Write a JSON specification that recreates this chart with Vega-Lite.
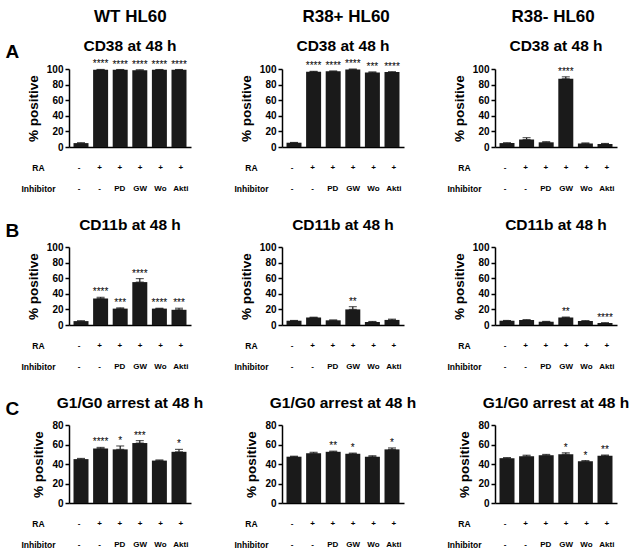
{
"$schema":"https://vega.github.io/schema/vega-lite/v6.json",
"padding":{"left":5,"top":7,"right":2,"bottom":2},
"config":{"view":{"stroke":null},"font":"Liberation Sans",
 "title":{"fontSize":15.5,"fontWeight":"bold","color":"#000","offset":9},
 "text":{"color":"#000"},
 "axisX":{"domainColor":"#000","domainWidth":1.5},
 "axisY":{"grid":false,"domainColor":"#000","domainWidth":1.5,"tickColor":"#000","tickWidth":1.5,"tickSize":4,"labelFontSize":10,"labelFontWeight":"bold","labelColor":"#000","labelPadding":2,"labelOverlap":false,"titleFontSize":13.5,"titleFontWeight":"bold","titleColor":"#000","titlePadding":6}},
"datasets":{
"bars":[
{"cell":"WT","marker":"CD38","cond":"ctrl","mean":5,"upper":5.3,"sig":""},
{"cell":"WT","marker":"CD38","cond":"RA","mean":99,"upper":99.4,"sig":"****"},
{"cell":"WT","marker":"CD38","cond":"PD","mean":99,"upper":99.3,"sig":"****"},
{"cell":"WT","marker":"CD38","cond":"GW","mean":98.5,"upper":98.9,"sig":"****"},
{"cell":"WT","marker":"CD38","cond":"Wo","mean":99,"upper":99.3,"sig":"****"},
{"cell":"WT","marker":"CD38","cond":"Akti","mean":99,"upper":99.3,"sig":"****"},
{"cell":"R38+","marker":"CD38","cond":"ctrl","mean":5.5,"upper":5.8,"sig":""},
{"cell":"R38+","marker":"CD38","cond":"RA","mean":96.5,"upper":97,"sig":"****"},
{"cell":"R38+","marker":"CD38","cond":"PD","mean":97,"upper":97.4,"sig":"****"},
{"cell":"R38+","marker":"CD38","cond":"GW","mean":99.5,"upper":99.8,"sig":"****"},
{"cell":"R38+","marker":"CD38","cond":"Wo","mean":95.5,"upper":96.3,"sig":"***"},
{"cell":"R38+","marker":"CD38","cond":"Akti","mean":96,"upper":96.4,"sig":"****"},
{"cell":"R38-","marker":"CD38","cond":"ctrl","mean":5,"upper":5.3,"sig":""},
{"cell":"R38-","marker":"CD38","cond":"RA","mean":9.5,"upper":12,"sig":""},
{"cell":"R38-","marker":"CD38","cond":"PD","mean":6,"upper":6.8,"sig":""},
{"cell":"R38-","marker":"CD38","cond":"GW","mean":87.5,"upper":90,"sig":"****"},
{"cell":"R38-","marker":"CD38","cond":"Wo","mean":4.5,"upper":5.2,"sig":""},
{"cell":"R38-","marker":"CD38","cond":"Akti","mean":4,"upper":4.5,"sig":""},
{"cell":"WT","marker":"CD11b","cond":"ctrl","mean":5,"upper":5.3,"sig":""},
{"cell":"WT","marker":"CD11b","cond":"RA","mean":34,"upper":35.5,"sig":"****"},
{"cell":"WT","marker":"CD11b","cond":"PD","mean":21,"upper":22,"sig":"***"},
{"cell":"WT","marker":"CD11b","cond":"GW","mean":55,"upper":59.5,"sig":"****"},
{"cell":"WT","marker":"CD11b","cond":"Wo","mean":21,"upper":21.5,"sig":"****"},
{"cell":"WT","marker":"CD11b","cond":"Akti","mean":19.5,"upper":21.5,"sig":"***"},
{"cell":"R38+","marker":"CD11b","cond":"ctrl","mean":5.5,"upper":5.8,"sig":""},
{"cell":"R38+","marker":"CD11b","cond":"RA","mean":9.5,"upper":10,"sig":""},
{"cell":"R38+","marker":"CD11b","cond":"PD","mean":6,"upper":6.4,"sig":""},
{"cell":"R38+","marker":"CD11b","cond":"GW","mean":20,"upper":23.5,"sig":"**"},
{"cell":"R38+","marker":"CD11b","cond":"Wo","mean":4,"upper":4.5,"sig":""},
{"cell":"R38+","marker":"CD11b","cond":"Akti","mean":6.5,"upper":7.5,"sig":""},
{"cell":"R38-","marker":"CD11b","cond":"ctrl","mean":5.5,"upper":5.8,"sig":""},
{"cell":"R38-","marker":"CD11b","cond":"RA","mean":6.3,"upper":6.8,"sig":""},
{"cell":"R38-","marker":"CD11b","cond":"PD","mean":4.2,"upper":4.6,"sig":""},
{"cell":"R38-","marker":"CD11b","cond":"GW","mean":9.5,"upper":10.2,"sig":"**"},
{"cell":"R38-","marker":"CD11b","cond":"Wo","mean":5,"upper":5.6,"sig":""},
{"cell":"R38-","marker":"CD11b","cond":"Akti","mean":2.5,"upper":2.8,"sig":"****"},
{"cell":"WT","marker":"G1","cond":"ctrl","mean":45,"upper":45.7,"sig":""},
{"cell":"WT","marker":"G1","cond":"RA","mean":56,"upper":57,"sig":"****"},
{"cell":"WT","marker":"G1","cond":"PD","mean":55,"upper":58.5,"sig":"*"},
{"cell":"WT","marker":"G1","cond":"GW","mean":61.5,"upper":64,"sig":"***"},
{"cell":"WT","marker":"G1","cond":"Wo","mean":43.5,"upper":44.2,"sig":""},
{"cell":"WT","marker":"G1","cond":"Akti","mean":52.5,"upper":55,"sig":"*"},
{"cell":"R38+","marker":"G1","cond":"ctrl","mean":47.5,"upper":48,"sig":""},
{"cell":"R38+","marker":"G1","cond":"RA","mean":51,"upper":52,"sig":""},
{"cell":"R38+","marker":"G1","cond":"PD","mean":52.5,"upper":53.2,"sig":"**"},
{"cell":"R38+","marker":"G1","cond":"GW","mean":50.5,"upper":51.2,"sig":"*"},
{"cell":"R38+","marker":"G1","cond":"Wo","mean":47.5,"upper":48.5,"sig":""},
{"cell":"R38+","marker":"G1","cond":"Akti","mean":55,"upper":56.5,"sig":"*"},
{"cell":"R38-","marker":"G1","cond":"ctrl","mean":46,"upper":46.5,"sig":""},
{"cell":"R38-","marker":"G1","cond":"RA","mean":48,"upper":49,"sig":""},
{"cell":"R38-","marker":"G1","cond":"PD","mean":49,"upper":49.8,"sig":""},
{"cell":"R38-","marker":"G1","cond":"GW","mean":50,"upper":51.5,"sig":"*"},
{"cell":"R38-","marker":"G1","cond":"Wo","mean":42.7,"upper":43.5,"sig":"*"},
{"cell":"R38-","marker":"G1","cond":"Akti","mean":48.5,"upper":49.2,"sig":"**"}
],
"table":[
{"cond":"ctrl","row":"RA","label":"-"},{"cond":"ctrl","row":"Inhibitor","label":"-"},
{"cond":"RA","row":"RA","label":"+"},{"cond":"RA","row":"Inhibitor","label":"-"},
{"cond":"PD","row":"RA","label":"+"},{"cond":"PD","row":"Inhibitor","label":"PD"},
{"cond":"GW","row":"RA","label":"+"},{"cond":"GW","row":"Inhibitor","label":"GW"},
{"cond":"Wo","row":"RA","label":"+"},{"cond":"Wo","row":"Inhibitor","label":"Wo"},
{"cond":"Akti","row":"RA","label":"+"},{"cond":"Akti","row":"Inhibitor","label":"Akti"}
]
},
"spacing":30,
"hconcat":[
{"title":{"text":"WT HL60","fontSize":17,"offset":13,"anchor":"middle","dx":26},"spacing":18,"vconcat":[
 {"title":{"text":"A","orient":"left","angle":0,"anchor":"end","baseline":"top","fontSize":19,"offset":-12,"dy":4},"spacing":5,"vconcat":[
  {"title":{"text":"CD38 at 48 h","offset":5},"width":122,"height":78,"data":{"name":"bars"},"transform":[{"filter":"datum.cell==='WT' && datum.marker==='CD38'"}],
   "encoding":{"x":{"field":"cond","type":"nominal","sort":["ctrl","RA","PD","GW","Wo","Akti"],"scale":{"paddingInner":0.235,"paddingOuter":0.23},"axis":{"title":null,"labels":false,"ticks":false}}},
   "layer":[
    {"mark":{"type":"bar","color":"#1a1a1a"},"encoding":{"y":{"field":"mean","type":"quantitative","scale":{"domain":[0,100]},"axis":{"title":"% positive","values":[0,20,40,60,80,100]}}}},
    {"mark":{"type":"errorbar","color":"#1a1a1a","thickness":1.2,"ticks":{"size":8,"color":"#1a1a1a"}},"encoding":{"y":{"field":"mean","type":"quantitative","axis":{"title":"% positive","values":[0,20,40,60,80,100]}},"y2":{"field":"upper"}}},
    {"mark":{"type":"text","fontSize":10,"baseline":"alphabetic","dy":-2,"color":"#000"},"encoding":{"y":{"field":"upper","type":"quantitative","axis":{"title":"% positive","values":[0,20,40,60,80,100]}},"text":{"field":"sig"}}}
   ]},
  {"width":122,"height":42,"data":{"name":"table"},"mark":{"type":"text","fontSize":8,"fontWeight":"bold","color":"#000"},
   "encoding":{"x":{"field":"cond","type":"nominal","sort":["ctrl","RA","PD","GW","Wo","Akti"],"scale":{"paddingInner":0.235,"paddingOuter":0.23},"axis":null},
    "y":{"field":"row","type":"nominal","sort":["RA","Inhibitor"],"axis":{"title":null,"domain":false,"ticks":false,"labelAlign":"center","labelPadding":31,"labelFontSize":8.5}},
    "text":{"field":"label"}}}
 ]},
 {"title":{"text":"B","orient":"left","angle":0,"anchor":"end","baseline":"top","fontSize":19,"offset":-12,"dy":4},"spacing":5,"vconcat":[
  {"title":{"text":"CD11b at 48 h"},"width":122,"height":78,"data":{"name":"bars"},"transform":[{"filter":"datum.cell==='WT' && datum.marker==='CD11b'"}],
   "encoding":{"x":{"field":"cond","type":"nominal","sort":["ctrl","RA","PD","GW","Wo","Akti"],"scale":{"paddingInner":0.235,"paddingOuter":0.23},"axis":{"title":null,"labels":false,"ticks":false}}},
   "layer":[
    {"mark":{"type":"bar","color":"#1a1a1a"},"encoding":{"y":{"field":"mean","type":"quantitative","scale":{"domain":[0,100]},"axis":{"title":"% positive","values":[0,20,40,60,80,100]}}}},
    {"mark":{"type":"errorbar","color":"#1a1a1a","thickness":1.2,"ticks":{"size":8,"color":"#1a1a1a"}},"encoding":{"y":{"field":"mean","type":"quantitative","axis":{"title":"% positive","values":[0,20,40,60,80,100]}},"y2":{"field":"upper"}}},
    {"mark":{"type":"text","fontSize":10,"baseline":"alphabetic","dy":-2,"color":"#000"},"encoding":{"y":{"field":"upper","type":"quantitative","axis":{"title":"% positive","values":[0,20,40,60,80,100]}},"text":{"field":"sig"}}}
   ]},
  {"width":122,"height":42,"data":{"name":"table"},"mark":{"type":"text","fontSize":8,"fontWeight":"bold","color":"#000"},
   "encoding":{"x":{"field":"cond","type":"nominal","sort":["ctrl","RA","PD","GW","Wo","Akti"],"scale":{"paddingInner":0.235,"paddingOuter":0.23},"axis":null},
    "y":{"field":"row","type":"nominal","sort":["RA","Inhibitor"],"axis":{"title":null,"domain":false,"ticks":false,"labelAlign":"center","labelPadding":31,"labelFontSize":8.5}},
    "text":{"field":"label"}}}
 ]},
 {"title":{"text":"C","orient":"left","angle":0,"anchor":"end","baseline":"top","fontSize":19,"offset":-12,"dy":4},"spacing":5,"vconcat":[
  {"title":{"text":"G1/G0 arrest at 48 h"},"width":122,"height":78,"data":{"name":"bars"},"transform":[{"filter":"datum.cell==='WT' && datum.marker==='G1'"}],
   "encoding":{"x":{"field":"cond","type":"nominal","sort":["ctrl","RA","PD","GW","Wo","Akti"],"scale":{"paddingInner":0.235,"paddingOuter":0.23},"axis":{"title":null,"labels":false,"ticks":false}}},
   "layer":[
    {"mark":{"type":"bar","color":"#1a1a1a"},"encoding":{"y":{"field":"mean","type":"quantitative","scale":{"domain":[0,80]},"axis":{"title":"% positive","values":[0,20,40,60,80]}}}},
    {"mark":{"type":"errorbar","color":"#1a1a1a","thickness":1.2,"ticks":{"size":8,"color":"#1a1a1a"}},"encoding":{"y":{"field":"mean","type":"quantitative","axis":{"title":"% positive","values":[0,20,40,60,80]}},"y2":{"field":"upper"}}},
    {"mark":{"type":"text","fontSize":10,"baseline":"alphabetic","dy":-2,"color":"#000"},"encoding":{"y":{"field":"upper","type":"quantitative","axis":{"title":"% positive","values":[0,20,40,60,80]}},"text":{"field":"sig"}}}
   ]},
  {"width":122,"height":42,"data":{"name":"table"},"mark":{"type":"text","fontSize":8,"fontWeight":"bold","color":"#000"},
   "encoding":{"x":{"field":"cond","type":"nominal","sort":["ctrl","RA","PD","GW","Wo","Akti"],"scale":{"paddingInner":0.235,"paddingOuter":0.23},"axis":null},
    "y":{"field":"row","type":"nominal","sort":["RA","Inhibitor"],"axis":{"title":null,"domain":false,"ticks":false,"labelAlign":"center","labelPadding":31,"labelFontSize":8.5}},
    "text":{"field":"label"}}}
 ]}
]},
{"title":{"text":"R38+ HL60","fontSize":17,"offset":13,"anchor":"middle","dx":21},"spacing":18,"vconcat":[
 {"spacing":5,"vconcat":[
  {"title":{"text":"CD38 at 48 h","offset":5},"width":122,"height":78,"data":{"name":"bars"},"transform":[{"filter":"datum.cell==='R38+' && datum.marker==='CD38'"}],
   "encoding":{"x":{"field":"cond","type":"nominal","sort":["ctrl","RA","PD","GW","Wo","Akti"],"scale":{"paddingInner":0.235,"paddingOuter":0.23},"axis":{"title":null,"labels":false,"ticks":false}}},
   "layer":[
    {"mark":{"type":"bar","color":"#1a1a1a"},"encoding":{"y":{"field":"mean","type":"quantitative","scale":{"domain":[0,100]},"axis":{"title":"% positive","values":[0,20,40,60,80,100]}}}},
    {"mark":{"type":"errorbar","color":"#1a1a1a","thickness":1.2,"ticks":{"size":8,"color":"#1a1a1a"}},"encoding":{"y":{"field":"mean","type":"quantitative","axis":{"title":"% positive","values":[0,20,40,60,80,100]}},"y2":{"field":"upper"}}},
    {"mark":{"type":"text","fontSize":10,"baseline":"alphabetic","dy":-2,"color":"#000"},"encoding":{"y":{"field":"upper","type":"quantitative","axis":{"title":"% positive","values":[0,20,40,60,80,100]}},"text":{"field":"sig"}}}
   ]},
  {"width":122,"height":42,"data":{"name":"table"},"mark":{"type":"text","fontSize":8,"fontWeight":"bold","color":"#000"},
   "encoding":{"x":{"field":"cond","type":"nominal","sort":["ctrl","RA","PD","GW","Wo","Akti"],"scale":{"paddingInner":0.235,"paddingOuter":0.23},"axis":null},
    "y":{"field":"row","type":"nominal","sort":["RA","Inhibitor"],"axis":{"title":null,"domain":false,"ticks":false,"labelAlign":"center","labelPadding":31,"labelFontSize":8.5}},
    "text":{"field":"label"}}}
 ]},
 {"spacing":5,"vconcat":[
  {"title":{"text":"CD11b at 48 h"},"width":122,"height":78,"data":{"name":"bars"},"transform":[{"filter":"datum.cell==='R38+' && datum.marker==='CD11b'"}],
   "encoding":{"x":{"field":"cond","type":"nominal","sort":["ctrl","RA","PD","GW","Wo","Akti"],"scale":{"paddingInner":0.235,"paddingOuter":0.23},"axis":{"title":null,"labels":false,"ticks":false}}},
   "layer":[
    {"mark":{"type":"bar","color":"#1a1a1a"},"encoding":{"y":{"field":"mean","type":"quantitative","scale":{"domain":[0,100]},"axis":{"title":"% positive","values":[0,20,40,60,80,100]}}}},
    {"mark":{"type":"errorbar","color":"#1a1a1a","thickness":1.2,"ticks":{"size":8,"color":"#1a1a1a"}},"encoding":{"y":{"field":"mean","type":"quantitative","axis":{"title":"% positive","values":[0,20,40,60,80,100]}},"y2":{"field":"upper"}}},
    {"mark":{"type":"text","fontSize":10,"baseline":"alphabetic","dy":-2,"color":"#000"},"encoding":{"y":{"field":"upper","type":"quantitative","axis":{"title":"% positive","values":[0,20,40,60,80,100]}},"text":{"field":"sig"}}}
   ]},
  {"width":122,"height":42,"data":{"name":"table"},"mark":{"type":"text","fontSize":8,"fontWeight":"bold","color":"#000"},
   "encoding":{"x":{"field":"cond","type":"nominal","sort":["ctrl","RA","PD","GW","Wo","Akti"],"scale":{"paddingInner":0.235,"paddingOuter":0.23},"axis":null},
    "y":{"field":"row","type":"nominal","sort":["RA","Inhibitor"],"axis":{"title":null,"domain":false,"ticks":false,"labelAlign":"center","labelPadding":31,"labelFontSize":8.5}},
    "text":{"field":"label"}}}
 ]},
 {"spacing":5,"vconcat":[
  {"title":{"text":"G1/G0 arrest at 48 h"},"width":122,"height":78,"data":{"name":"bars"},"transform":[{"filter":"datum.cell==='R38+' && datum.marker==='G1'"}],
   "encoding":{"x":{"field":"cond","type":"nominal","sort":["ctrl","RA","PD","GW","Wo","Akti"],"scale":{"paddingInner":0.235,"paddingOuter":0.23},"axis":{"title":null,"labels":false,"ticks":false}}},
   "layer":[
    {"mark":{"type":"bar","color":"#1a1a1a"},"encoding":{"y":{"field":"mean","type":"quantitative","scale":{"domain":[0,80]},"axis":{"title":"% positive","values":[0,20,40,60,80]}}}},
    {"mark":{"type":"errorbar","color":"#1a1a1a","thickness":1.2,"ticks":{"size":8,"color":"#1a1a1a"}},"encoding":{"y":{"field":"mean","type":"quantitative","axis":{"title":"% positive","values":[0,20,40,60,80]}},"y2":{"field":"upper"}}},
    {"mark":{"type":"text","fontSize":10,"baseline":"alphabetic","dy":-2,"color":"#000"},"encoding":{"y":{"field":"upper","type":"quantitative","axis":{"title":"% positive","values":[0,20,40,60,80]}},"text":{"field":"sig"}}}
   ]},
  {"width":122,"height":42,"data":{"name":"table"},"mark":{"type":"text","fontSize":8,"fontWeight":"bold","color":"#000"},
   "encoding":{"x":{"field":"cond","type":"nominal","sort":["ctrl","RA","PD","GW","Wo","Akti"],"scale":{"paddingInner":0.235,"paddingOuter":0.23},"axis":null},
    "y":{"field":"row","type":"nominal","sort":["RA","Inhibitor"],"axis":{"title":null,"domain":false,"ticks":false,"labelAlign":"center","labelPadding":31,"labelFontSize":8.5}},
    "text":{"field":"label"}}}
 ]}
]},
{"title":{"text":"R38- HL60","fontSize":17,"offset":13,"anchor":"middle","dx":15},"spacing":18,"vconcat":[
 {"spacing":5,"vconcat":[
  {"title":{"text":"CD38 at 48 h","offset":10},"width":122,"height":78,"data":{"name":"bars"},"transform":[{"filter":"datum.cell==='R38-' && datum.marker==='CD38'"}],
   "encoding":{"x":{"field":"cond","type":"nominal","sort":["ctrl","RA","PD","GW","Wo","Akti"],"scale":{"paddingInner":0.235,"paddingOuter":0.23},"axis":{"title":null,"labels":false,"ticks":false}}},
   "layer":[
    {"mark":{"type":"bar","color":"#1a1a1a"},"encoding":{"y":{"field":"mean","type":"quantitative","scale":{"domain":[0,100]},"axis":{"title":"% positive","values":[0,20,40,60,80,100]}}}},
    {"mark":{"type":"errorbar","color":"#1a1a1a","thickness":1.2,"ticks":{"size":8,"color":"#1a1a1a"}},"encoding":{"y":{"field":"mean","type":"quantitative","axis":{"title":"% positive","values":[0,20,40,60,80,100]}},"y2":{"field":"upper"}}},
    {"mark":{"type":"text","fontSize":10,"baseline":"alphabetic","dy":-2,"color":"#000"},"encoding":{"y":{"field":"upper","type":"quantitative","axis":{"title":"% positive","values":[0,20,40,60,80,100]}},"text":{"field":"sig"}}}
   ]},
  {"width":122,"height":42,"data":{"name":"table"},"mark":{"type":"text","fontSize":8,"fontWeight":"bold","color":"#000"},
   "encoding":{"x":{"field":"cond","type":"nominal","sort":["ctrl","RA","PD","GW","Wo","Akti"],"scale":{"paddingInner":0.235,"paddingOuter":0.23},"axis":null},
    "y":{"field":"row","type":"nominal","sort":["RA","Inhibitor"],"axis":{"title":null,"domain":false,"ticks":false,"labelAlign":"center","labelPadding":31,"labelFontSize":8.5}},
    "text":{"field":"label"}}}
 ]},
 {"spacing":5,"vconcat":[
  {"title":{"text":"CD11b at 48 h"},"width":122,"height":78,"data":{"name":"bars"},"transform":[{"filter":"datum.cell==='R38-' && datum.marker==='CD11b'"}],
   "encoding":{"x":{"field":"cond","type":"nominal","sort":["ctrl","RA","PD","GW","Wo","Akti"],"scale":{"paddingInner":0.235,"paddingOuter":0.23},"axis":{"title":null,"labels":false,"ticks":false}}},
   "layer":[
    {"mark":{"type":"bar","color":"#1a1a1a"},"encoding":{"y":{"field":"mean","type":"quantitative","scale":{"domain":[0,100]},"axis":{"title":"% positive","values":[0,20,40,60,80,100]}}}},
    {"mark":{"type":"errorbar","color":"#1a1a1a","thickness":1.2,"ticks":{"size":8,"color":"#1a1a1a"}},"encoding":{"y":{"field":"mean","type":"quantitative","axis":{"title":"% positive","values":[0,20,40,60,80,100]}},"y2":{"field":"upper"}}},
    {"mark":{"type":"text","fontSize":10,"baseline":"alphabetic","dy":-2,"color":"#000"},"encoding":{"y":{"field":"upper","type":"quantitative","axis":{"title":"% positive","values":[0,20,40,60,80,100]}},"text":{"field":"sig"}}}
   ]},
  {"width":122,"height":42,"data":{"name":"table"},"mark":{"type":"text","fontSize":8,"fontWeight":"bold","color":"#000"},
   "encoding":{"x":{"field":"cond","type":"nominal","sort":["ctrl","RA","PD","GW","Wo","Akti"],"scale":{"paddingInner":0.235,"paddingOuter":0.23},"axis":null},
    "y":{"field":"row","type":"nominal","sort":["RA","Inhibitor"],"axis":{"title":null,"domain":false,"ticks":false,"labelAlign":"center","labelPadding":31,"labelFontSize":8.5}},
    "text":{"field":"label"}}}
 ]},
 {"spacing":5,"vconcat":[
  {"title":{"text":"G1/G0 arrest at 48 h"},"width":122,"height":78,"data":{"name":"bars"},"transform":[{"filter":"datum.cell==='R38-' && datum.marker==='G1'"}],
   "encoding":{"x":{"field":"cond","type":"nominal","sort":["ctrl","RA","PD","GW","Wo","Akti"],"scale":{"paddingInner":0.235,"paddingOuter":0.23},"axis":{"title":null,"labels":false,"ticks":false}}},
   "layer":[
    {"mark":{"type":"bar","color":"#1a1a1a"},"encoding":{"y":{"field":"mean","type":"quantitative","scale":{"domain":[0,80]},"axis":{"title":"% positive","values":[0,20,40,60,80]}}}},
    {"mark":{"type":"errorbar","color":"#1a1a1a","thickness":1.2,"ticks":{"size":8,"color":"#1a1a1a"}},"encoding":{"y":{"field":"mean","type":"quantitative","axis":{"title":"% positive","values":[0,20,40,60,80]}},"y2":{"field":"upper"}}},
    {"mark":{"type":"text","fontSize":10,"baseline":"alphabetic","dy":-2,"color":"#000"},"encoding":{"y":{"field":"upper","type":"quantitative","axis":{"title":"% positive","values":[0,20,40,60,80]}},"text":{"field":"sig"}}}
   ]},
  {"width":122,"height":42,"data":{"name":"table"},"mark":{"type":"text","fontSize":8,"fontWeight":"bold","color":"#000"},
   "encoding":{"x":{"field":"cond","type":"nominal","sort":["ctrl","RA","PD","GW","Wo","Akti"],"scale":{"paddingInner":0.235,"paddingOuter":0.23},"axis":null},
    "y":{"field":"row","type":"nominal","sort":["RA","Inhibitor"],"axis":{"title":null,"domain":false,"ticks":false,"labelAlign":"center","labelPadding":31,"labelFontSize":8.5}},
    "text":{"field":"label"}}}
 ]}
]}
]
}
